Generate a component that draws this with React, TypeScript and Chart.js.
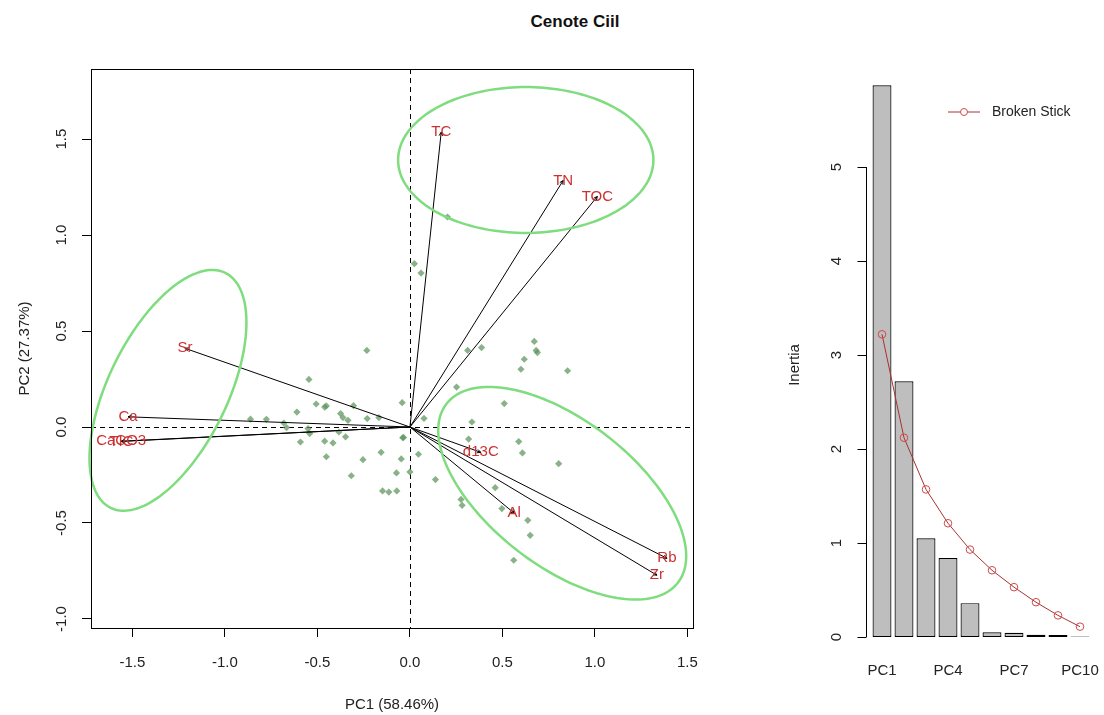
import React, { useEffect, useRef } from 'react';
import { Chart, registerables } from 'chart.js';
Chart.register(...registerables);

const TITLE = 'Cenote Ciil';
const X_TITLE = 'PC1 (58.46%)';
const Y_TITLE = 'PC2 (27.37%)';

// sample scores (PC1, PC2)
const scoreX = [0.203, 0.024, 0.060, -0.233, 0.312, 0.387, 0.672, 0.689, 0.682, 0.618, 0.600, 0.852, 0.252, 0.510, 0.335, 0.317, 0.076, -0.042, 0.046, -0.039, -0.047, -0.073, 0.000, 0.138, -0.156, -0.148, -0.114, -0.071, -0.254, -0.317, -0.452, -0.461, -0.416, -0.384, -0.348, -0.592, -0.551, -0.542, -0.611, -0.546, -0.507, -0.461, -0.452, -0.375, -0.362, -0.335, -0.305, -0.231, -0.168, -0.862, -0.776, -0.682, -0.667, 0.276, 0.282, 0.461, 0.497, 0.588, 0.608, 0.804, 0.637, 0.650, 0.561, -0.035];
const scoreY = [1.094, 0.851, 0.802, 0.399, 0.399, 0.414, 0.446, 0.388, 0.399, 0.353, 0.301, 0.293, 0.208, 0.122, 0.026, -0.063, 0.045, 0.127, -0.142, -0.056, -0.166, -0.239, -0.234, -0.274, -0.132, -0.333, -0.339, -0.333, -0.170, -0.254, -0.155, -0.074, -0.083, -0.026, -0.051, -0.078, -0.008, -0.034, 0.078, 0.248, 0.120, 0.104, 0.110, 0.070, 0.049, 0.035, 0.111, 0.044, 0.049, 0.041, 0.040, 0.021, -0.003, -0.377, -0.408, -0.316, -0.425, -0.076, -0.135, -0.191, -0.486, -0.564, -0.694, -0.054];

// variable loadings
const varNames = ['TC', 'TN', 'TOC', 'Sr', 'Ca', 'CaCO3', 'TIC', 'd13C', 'Al', 'Rb', 'Zr'];
const varX = [0.169, 0.828, 1.013, -1.216, -1.524, -1.561, -1.560, 0.383, 0.564, 1.389, 1.335];
const varY = [1.536, 1.284, 1.201, 0.410, 0.053, -0.074, -0.075, -0.132, -0.449, -0.684, -0.772];

const xTicks = [-1.5, -1.0, -0.5, 0.0, 0.5, 1.0, 1.5];
const yTicks = [-1.0, -0.5, 0.0, 0.5, 1.0, 1.5];

// group ellipses (data units)
const ellCX = [0.626, -1.308, 0.823];
const ellCY = [1.391, 0.191, -0.345];
const ellA = [0.690, 0.686, 0.780];
const ellB = [0.380, 0.320, 0.384];
const ellAngle = [0, 62.7, -36];

// scree plot
const pcLabels = ['PC1', 'PC2', 'PC3', 'PC4', 'PC5', 'PC6', 'PC7', 'PC8', 'PC9', 'PC10'];
const inertia = [5.87, 2.72, 1.05, 0.84, 0.36, 0.05, 0.045, 0.025, 0.022, 0.006];
const brokenStick = [3.22, 2.12, 1.57, 1.21, 0.93, 0.71, 0.53, 0.37, 0.23, 0.11];
const inertiaTicks = [0, 1, 2, 3, 4, 5];

const FONT = "'Liberation Sans', Arial, sans-serif";
const TXT = '#222';
const LABEL_RED = '#cc3030';
const ELL_GREEN = '#7fdc7f';

const biplotPlugin = {
  id: 'biplotDecor',
  beforeDatasetsDraw(chart: any) {
    const { ctx, chartArea, scales } = chart;
    const { left, right, top, bottom } = chartArea;
    const x = scales.x, y = scales.y;
    ctx.save();
    ctx.strokeStyle = '#000';
    ctx.lineWidth = 1;
    ctx.setLineDash([5, 4]);
    const x0 = Math.round(x.getPixelForValue(0)) + 0.5;
    const y0 = Math.round(y.getPixelForValue(0)) + 0.5;
    ctx.beginPath();
    ctx.moveTo(x0, top);
    ctx.lineTo(x0, bottom);
    ctx.moveTo(left, y0);
    ctx.lineTo(right, y0);
    ctx.stroke();
    ctx.restore();
  },
  afterDatasetsDraw(chart: any) {
    const { ctx, chartArea, scales } = chart;
    const { left, right, top, bottom } = chartArea;
    const x = scales.x, y = scales.y;
    const ox = x.getPixelForValue(0), oy = y.getPixelForValue(0);
    ctx.save();
    // arrows
    ctx.strokeStyle = '#000';
    ctx.lineWidth = 1;
    for (let i = 0; i < varNames.length; i++) {
      const px = x.getPixelForValue(varX[i]);
      const py = y.getPixelForValue(varY[i]);
      ctx.beginPath();
      ctx.moveTo(ox, oy);
      ctx.lineTo(px, py);
      const th = Math.atan2(py - oy, px - ox);
      const hl = 4;
      ctx.moveTo(px, py);
      ctx.lineTo(px - hl * Math.cos(th - 0.45), py - hl * Math.sin(th - 0.45));
      ctx.moveTo(px, py);
      ctx.lineTo(px - hl * Math.cos(th + 0.45), py - hl * Math.sin(th + 0.45));
      ctx.stroke();
    }
    // labels
    ctx.fillStyle = LABEL_RED;
    ctx.font = `15px ${FONT}`;
    ctx.textAlign = 'center';
    ctx.textBaseline = 'middle';
    for (let i = 0; i < varNames.length; i++) {
      ctx.fillText(varNames[i], x.getPixelForValue(varX[i]), y.getPixelForValue(varY[i]));
    }
    // ellipses
    ctx.strokeStyle = ELL_GREEN;
    ctx.lineWidth = 2.5;
    for (let k = 0; k < ellCX.length; k++) {
      const ang = (ellAngle[k] * Math.PI) / 180;
      const c = Math.cos(ang), s = Math.sin(ang);
      ctx.beginPath();
      for (let i = 0; i <= 180; i++) {
        const t = (2 * Math.PI * i) / 180;
        const dx = ellA[k] * Math.cos(t) * c - ellB[k] * Math.sin(t) * s;
        const dy = ellA[k] * Math.cos(t) * s + ellB[k] * Math.sin(t) * c;
        const px = x.getPixelForValue(ellCX[k] + dx);
        const py = y.getPixelForValue(ellCY[k] + dy);
        if (i === 0) ctx.moveTo(px, py); else ctx.lineTo(px, py);
      }
      ctx.closePath();
      ctx.stroke();
    }
    // box
    ctx.strokeStyle = '#000';
    ctx.lineWidth = 1;
    ctx.strokeRect(Math.round(left) + 0.5, Math.round(top) + 0.5, Math.round(right - left), Math.round(bottom - top));
    // rotated y tick labels
    ctx.fillStyle = TXT;
    ctx.font = `15px ${FONT}`;
    ctx.textAlign = 'center';
    ctx.textBaseline = 'middle';
    for (const v of yTicks) {
      ctx.save();
      ctx.translate(left - 29, y.getPixelForValue(v));
      ctx.rotate(-Math.PI / 2);
      ctx.fillText(v.toFixed(1), 0, 0);
      ctx.restore();
    }
    ctx.restore();
  },
};

const screePlugin = {
  id: 'screeDecor',
  afterDraw(chart: any) {
    const { ctx, chartArea, scales } = chart;
    const y = scales.y;
    const axisX = Math.round(chartArea.left - 5) + 0.5;
    ctx.save();
    ctx.strokeStyle = '#000';
    ctx.lineWidth = 1;
    ctx.beginPath();
    ctx.moveTo(axisX, y.getPixelForValue(inertiaTicks[0]));
    ctx.lineTo(axisX, y.getPixelForValue(inertiaTicks[inertiaTicks.length - 1]));
    for (const v of inertiaTicks) {
      const py = Math.round(y.getPixelForValue(v)) + 0.5;
      ctx.moveTo(axisX, py);
      ctx.lineTo(axisX - 9, py);
    }
    ctx.stroke();
    ctx.fillStyle = TXT;
    ctx.font = `15px ${FONT}`;
    ctx.textAlign = 'center';
    ctx.textBaseline = 'middle';
    for (const v of inertiaTicks) {
      ctx.save();
      ctx.translate(axisX - 30, y.getPixelForValue(v));
      ctx.rotate(-Math.PI / 2);
      ctx.fillText(String(v), 0, 0);
      ctx.restore();
    }
    // axis title
    ctx.save();
    ctx.translate(55, 365);
    ctx.rotate(-Math.PI / 2);
    ctx.fillText('Inertia', 0, 0);
    ctx.restore();
    // legend
    const ly = 112;
    ctx.strokeStyle = '#a83232';
    ctx.beginPath();
    ctx.moveTo(208, ly);
    ctx.lineTo(240, ly);
    ctx.stroke();
    ctx.strokeStyle = '#d04a4a';
    ctx.beginPath();
    ctx.arc(224, ly, 3.5, 0, Math.PI * 2);
    ctx.fillStyle = '#fff';
    ctx.fill();
    ctx.stroke();
    ctx.fillStyle = TXT;
    ctx.font = `14px ${FONT}`;
    ctx.textAlign = 'left';
    ctx.fillText('Broken Stick', 252, ly);
    ctx.restore();
  },
};

export default function App() {
  const leftRef = useRef<HTMLCanvasElement>(null);
  const rightRef = useRef<HTMLCanvasElement>(null);

  useEffect(() => {
    const font = { family: FONT, size: 15 };
    const left = new Chart(leftRef.current as HTMLCanvasElement, {
      type: 'scatter',
      data: {
        datasets: [
          {
            label: 'scores',
            data: scoreX.map((v, i) => ({ x: v, y: scoreY[i] })),
            pointStyle: 'rectRot',
            pointRadius: 3.6,
            backgroundColor: 'rgba(92,148,92,0.72)',
            borderWidth: 0,
          },
        ],
      },
      options: {
        responsive: false,
        animation: false,
        devicePixelRatio: 1,
        events: [],
        layout: { padding: { left: 0, right: 47, top: 69, bottom: 0 } },
        plugins: { legend: { display: false }, tooltip: { enabled: false } },
        scales: {
          x: {
            type: 'linear',
            min: -1.724,
            max: 1.53,
            afterBuildTicks: (s: any) => {
              s.ticks = xTicks.map((v) => ({ value: v }));
            },
            afterFit: (s: any) => {
              s.height = 87;
              s.paddingLeft = 0;
              s.paddingRight = 0;
            },
            grid: { drawOnChartArea: false, drawTicks: true, tickLength: 9, color: '#000' },
            border: { display: true, color: '#000' },
            ticks: {
              font,
              color: TXT,
              padding: 17,
              maxRotation: 0,
              autoSkip: false,
              callback: (v: any) => Number(v).toFixed(1),
            },
            title: { display: true, text: X_TITLE, font, color: TXT, padding: { top: 0, bottom: 1 } },
          },
          y: {
            type: 'linear',
            min: -1.047,
            max: 1.865,
            afterBuildTicks: (s: any) => {
              s.ticks = yTicks.map((v) => ({ value: v }));
            },
            afterFit: (s: any) => {
              s.width = 91;
              s.paddingTop = 0;
              s.paddingBottom = 0;
            },
            grid: { drawOnChartArea: false, drawTicks: true, tickLength: 9, color: '#000' },
            border: { display: true, color: '#000' },
            ticks: { display: false },
            title: { display: true, text: Y_TITLE, font, color: TXT, padding: { top: 16, bottom: 0 } },
          },
        },
      },
      plugins: [biplotPlugin],
    } as any);

    const right = new Chart(rightRef.current as HTMLCanvasElement, {
      type: 'bar',
      data: {
        labels: pcLabels,
        datasets: [
          {
            type: 'line',
            label: 'Broken Stick',
            data: brokenStick,
            borderColor: '#a83232',
            borderWidth: 1,
            pointStyle: 'circle',
            pointRadius: 3.8,
            pointBackgroundColor: 'rgba(0,0,0,0)',
            pointBorderColor: '#d04a4a',
            pointBorderWidth: 1,
            tension: 0,
            order: 0,
          },
          {
            type: 'bar',
            label: 'Inertia',
            data: inertia,
            backgroundColor: '#bebebe',
            borderColor: '#000',
            borderWidth: 1.2,
            borderSkipped: false,
            barPercentage: 0.86,
            categoryPercentage: 1,
            order: 1,
          },
        ],
      },
      options: {
        responsive: false,
        animation: false,
        devicePixelRatio: 1,
        events: [],
        layout: { padding: { left: 131, right: 13, top: 73, bottom: 0 } },
        plugins: { legend: { display: false }, tooltip: { enabled: false } },
        scales: {
          x: {
            grid: { display: false, drawTicks: false },
            border: { display: false },
            afterFit: (s: any) => {
              s.height = 78;
              s.paddingLeft = 0;
              s.paddingRight = 0;
            },
            ticks: {
              font,
              color: TXT,
              padding: 25,
              autoSkip: false,
              maxRotation: 0,
              callback: (_v: any, i: number) => (i % 3 === 0 ? pcLabels[i] : ''),
            },
          },
          y: { display: false, min: 0, max: 6 },
        },
      },
      plugins: [screePlugin],
    } as any);

    return () => {
      left.destroy();
      right.destroy();
    };
  }, []);

  return (
    <div style={{ position: 'fixed', left: 0, top: 0, width: 1104, height: 715, background: '#fff' }}>
      <div
        style={{
          position: 'absolute',
          left: 475,
          top: 12,
          width: 200,
          textAlign: 'center',
          fontFamily: FONT,
          fontWeight: 'bold',
          fontSize: 17,
          lineHeight: '20px',
          color: '#111',
        }}
      >
        {TITLE}
      </div>
      <canvas ref={leftRef} width={740} height={715} style={{ position: 'absolute', left: 0, top: 0 }} />
      <canvas ref={rightRef} width={364} height={715} style={{ position: 'absolute', left: 740, top: 0 }} />
    </div>
  );
}
